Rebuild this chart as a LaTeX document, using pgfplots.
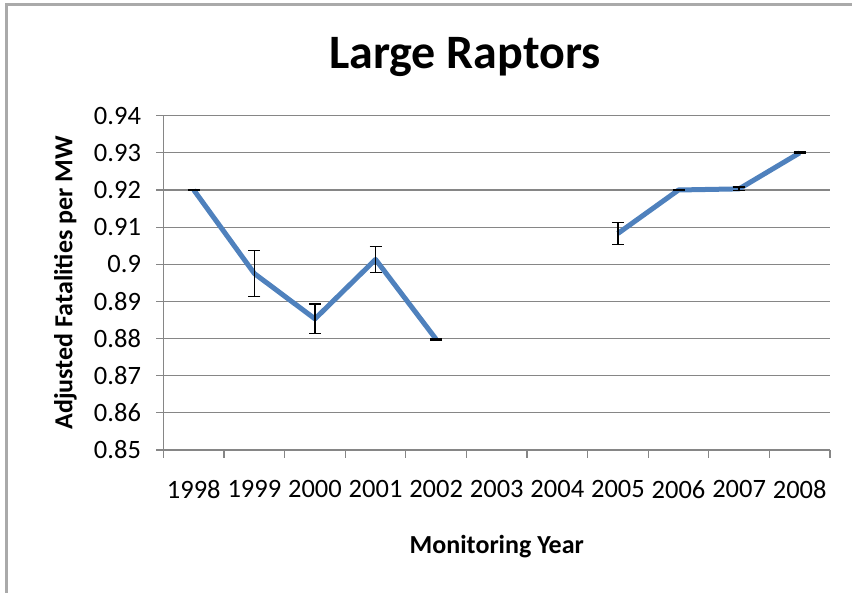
\documentclass[border=0pt]{standalone}
\usepackage{pgfplots}
\pgfplotsset{compat=1.18}
\usepackage{fontspec}
\setmainfont{Carlito}
\definecolor{exblue}{RGB}{79,129,189}
\definecolor{gridgray}{RGB}{134,134,134}
\begin{document}
\begin{tikzpicture}[x=1pt,y=1pt]
\useasboundingbox (-163.5,-143) rectangle (688.5,450);
\draw[color={rgb,255:red,170;green,170;blue,170}, line width=2.2pt] (-157,-143) -- (-157,445.5) -- (688.5,445.5);
\begin{axis}[
  at={(0,0)}, anchor=south west,
  scale only axis, width=666.5pt, height=334.3pt,
  xmin=-0.5, xmax=10.5, ymin=0.85, ymax=0.94,
  axis x line*=bottom, axis y line*=left,
  axis line style={draw=gridgray, line width=1.2pt, -},
  xtick={0,...,10},
  xticklabels={1998,1999,2000,2001,2002,2003,2004,2005,2006,2007,2008},
  minor xtick={-0.5,0.5,...,10.5},
  major x tick style={draw=none},
  minor x tick style={draw=gridgray, line width=1.2pt},
  ytick={0.85,0.86,0.87,0.88,0.89,0.9,0.91,0.92,0.93,0.94},
  yticklabels={0.85,0.86,0.87,0.88,0.89,0.9,0.91,0.92,0.93,0.94},
  y tick style={draw=gridgray, line width=1.2pt},
  tick align=outside, major tick length=7pt, minor tick length=8pt,
  ymajorgrids, grid style={draw=gridgray, line width=1.2pt},
  ticklabel style={font=\fontsize{26.5}{30}\selectfont, text=black},
  xticklabel style={yshift=-20pt},
  yticklabel style={xshift=-12pt},
  xlabel={Monitoring Year},
  ylabel={Adjusted Fatalities per MW},
  label style={font=\fontsize{26}{30}\selectfont\bfseries},
  xlabel style={at={(axis description cs:0.5,0)}, anchor=center, yshift=-97pt},
  ylabel style={at={(axis description cs:0,0.5)}, anchor=center, yshift=98pt},
  clip=false,
]
\addplot[exblue, line width=5pt, line join=round,
  error bars/.cd, y dir=both, y explicit,
  error bar style={black, line width=1.3pt},
  error mark options={black, rotate=90, mark size=6pt, line width=1.3pt}]
  table[x=x, y=y, y error=e] {
x y e
0 0.9200 0.0002
1 0.8975 0.0062
2 0.8853 0.0040
3 0.9013 0.0035
4 0.8798 0.0002
};
\addplot[exblue, line width=5pt, line join=round,
  error bars/.cd, y dir=both, y explicit,
  error bar style={black, line width=1.3pt},
  error mark options={black, rotate=90, mark size=6pt, line width=1.3pt}]
  table[x=x, y=y, y error=e] {
x y e
7 0.9083 0.0030
8 0.9200 0.0002
9 0.9203 0.0005
10 0.9300 0.0002
};
\end{axis}
\node[font=\fontsize{48}{52}\selectfont\bfseries] at (301.5,393) {Large Raptors};
\end{tikzpicture}
\end{document}
